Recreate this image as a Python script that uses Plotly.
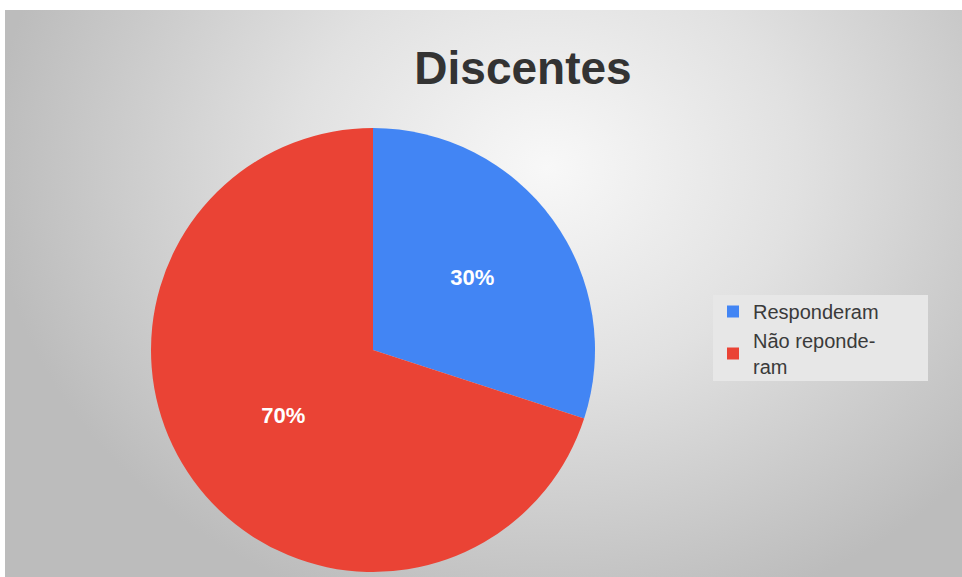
import base64
import plotly.graph_objects as go

labels = ["Responderam", "Não reponde-<br>ram"]
values = [30, 70]
colors = ["#4285f4", "#ea4335"]
title_text = "Discentes"

W, H = 962, 577

svg = f'''<svg xmlns="http://www.w3.org/2000/svg" width="{W}" height="{H}" viewBox="0 0 {W} {H}" preserveAspectRatio="none">
<defs><radialGradient id="g" gradientUnits="userSpaceOnUse" cx="545" cy="160" r="560" gradientTransform="translate(545 160) scale(1 0.85) translate(-545 -160)">
<stop offset="0" stop-color="#f8f8f8"/>
<stop offset="0.45" stop-color="#e1e1e1"/>
<stop offset="1" stop-color="#bcbcbc"/>
</radialGradient></defs>
<rect x="0" y="0" width="{W}" height="{H}" fill="url(#g)"/>
</svg>'''
src = "data:image/svg+xml;base64," + base64.b64encode(svg.encode()).decode()

fig = go.Figure()
fig.add_trace(go.Pie(
    labels=labels,
    values=values,
    marker=dict(colors=colors, line=dict(width=0)),
    sort=False,
    direction="clockwise",
    rotation=0,
    textinfo="percent",
    textposition="inside",
    insidetextorientation="horizontal",
    texttemplate="<b>%{percent:.0%}</b>",
    textfont=dict(family="Arial, Liberation Sans", size=22, color="white"),
    hoverinfo="label+percent",
    domain=dict(x=[151 / W, 595 / W], y=[5 / H, 449 / H]),
))

fig.update_layout(
    width=W,
    height=H,
    margin=dict(l=0, r=0, t=0, b=0),
    paper_bgcolor="white",
    images=[dict(
        source=src, xref="paper", yref="paper",
        x=5 / W, y=1 - 10 / H, sizex=1 - 5 / W, sizey=1 - 10 / H,
        xanchor="left", yanchor="top", sizing="stretch", layer="below",
    )],
    shapes=[dict(
        type="rect", xref="paper", yref="paper",
        x0=713 / W, x1=928 / W, y0=1 - 381 / H, y1=1 - 295 / H,
        fillcolor="#e7e7e7", line=dict(width=0), layer="above",
    )],
    title=dict(
        text="<b>" + title_text + "</b>",
        x=523 / W, xanchor="center",
        y=1 - 68 / H, yanchor="middle",
        font=dict(family="Arial, Liberation Sans", size=46, color="#333333"),
    ),
    legend=dict(
        x=713 / W, y=1 - 292 / H, xanchor="left", yanchor="top",
        bgcolor="rgba(0,0,0,0)",
        font=dict(family="Arial, Liberation Sans", size=20, color="#3a3a3a"),
        itemwidth=30,
        tracegroupgap=0,
    ),
    showlegend=True,
)

fig.write_html(
    "out.html",
    config={"displayModeBar": False},
    post_script="document.body.style.margin='0';document.body.style.overflow='hidden';",
)
